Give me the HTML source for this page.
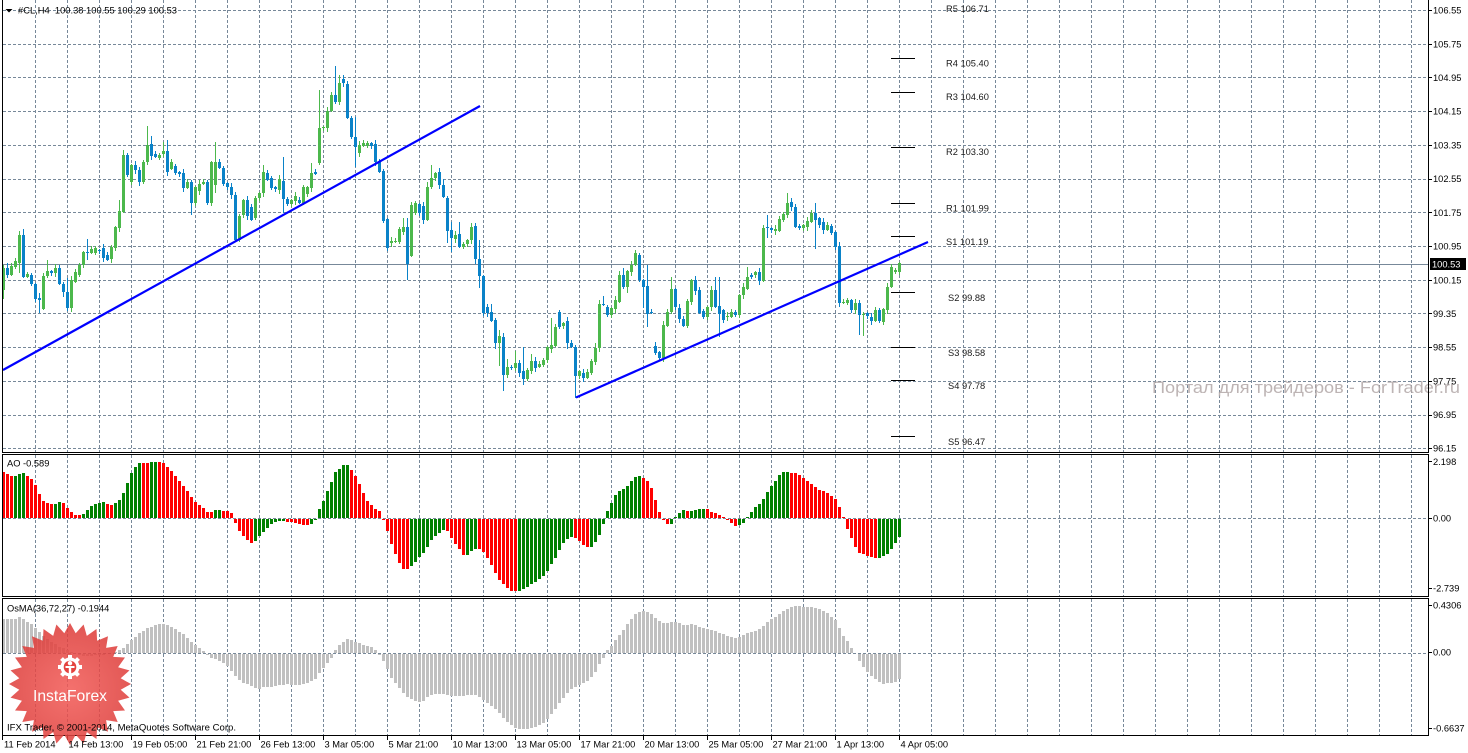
<!DOCTYPE html>
<html><head><meta charset="utf-8">
<style>
html,body{margin:0;padding:0;background:#fff;}
svg{display:block;}
text{font-family:"Liberation Sans",Arial,sans-serif;font-size:9.3px;fill:#000;}
.pv{fill:#1a1a1a;}
</style></head>
<body>
<svg id="s" width="1468" height="753" viewBox="0 0 1468 753" xmlns="http://www.w3.org/2000/svg">
<defs>
<radialGradient id="lg" cx="50%" cy="55%" r="55%">
<stop offset="0" stop-color="#f25a56"/>
<stop offset="1" stop-color="#dc3b38"/>
</radialGradient>
</defs>
<rect x="0" y="0" width="1468" height="753" fill="#fff"/>
<g id="grid" stroke="#778899" stroke-width="1" stroke-dasharray="3 2" shape-rendering="crispEdges"></g>
<line x1="3" y1="264.5" x2="1428" y2="264.5" stroke="#778899" stroke-width="1" shape-rendering="crispEdges"/>
<g id="candles" shape-rendering="crispEdges"></g>
<g id="ao" shape-rendering="crispEdges"></g>
<g id="osma" shape-rendering="crispEdges" fill="#c0c0c0"></g>
<!-- trend lines -->
<line x1="3" y1="370" x2="480" y2="106" stroke="#0000ff" stroke-width="2.2"/>
<line x1="576" y1="397.5" x2="928" y2="242" stroke="#0000ff" stroke-width="2.2"/>
<!-- pivot lines -->
<g stroke="#000" stroke-width="1" shape-rendering="crispEdges">
<line x1="891" y1="58.5" x2="915" y2="58.5"/>
<line x1="891" y1="92.5" x2="915" y2="92.5"/>
<line x1="891" y1="147.5" x2="915" y2="147.5"/>
<line x1="891" y1="203.5" x2="915" y2="203.5"/>
<line x1="891" y1="236.5" x2="915" y2="236.5"/>
<line x1="891" y1="292.5" x2="915" y2="292.5"/>
<line x1="891" y1="347.5" x2="915" y2="347.5"/>
<line x1="891" y1="380.5" x2="915" y2="380.5"/>
<line x1="891" y1="436.5" x2="915" y2="436.5"/>
</g>
<g>
<text class="pv" x="946" y="12">R5 106.71</text>
<text class="pv" x="946" y="66.5">R4 105.40</text>
<text class="pv" x="946" y="100">R3 104.60</text>
<text class="pv" x="946" y="155">R2 103.30</text>
<text class="pv" x="946" y="211.3">R1 101.99</text>
<text class="pv" x="946" y="245">S1 101.19</text>
<text class="pv" x="948" y="301">S2 99.88</text>
<text class="pv" x="948" y="356">S3 98.58</text>
<text class="pv" x="948" y="389">S4 97.78</text>
<text class="pv" x="948" y="445">S5 96.47</text>
</g>
<!-- watermark -->
<text x="1152" y="393" style="font-size:17px;fill:#b2a8a8;opacity:0.85" textLength="308" lengthAdjust="spacingAndGlyphs">Портал для трейдеров - ForTrader.ru</text>
<!-- borders -->
<g stroke="#000" stroke-width="1" shape-rendering="crispEdges" fill="none">
<line x1="2.5" y1="0" x2="2.5" y2="452"/>
<line x1="1428.5" y1="0" x2="1428.5" y2="452"/>
<line x1="2" y1="452.5" x2="1429" y2="452.5"/>
<rect x="2.5" y="454.5" width="1426" height="142"/>
<rect x="2.5" y="598.5" width="1426" height="137"/>
</g>
<g id="ticks" stroke="#000" stroke-width="1" shape-rendering="crispEdges"></g>
<!-- header -->
<polygon points="5.5,9 12.5,9 9,12.5" fill="#000"/>
<text x="18" y="13.5" textLength="159" lengthAdjust="spacingAndGlyphs">#CL,H4&#160;&#160;100.38 100.55 100.29 100.53</text>
<!-- price axis -->
<g>
<text x="1433" y="13.5">106.55</text>
<text x="1433" y="47.3">105.75</text>
<text x="1433" y="81">104.95</text>
<text x="1433" y="114.7">104.15</text>
<text x="1433" y="148.4">103.35</text>
<text x="1433" y="182.1">102.55</text>
<text x="1433" y="215.8">101.75</text>
<text x="1433" y="249.6">100.95</text>
<text x="1433" y="283.3">100.15</text>
<text x="1433" y="317">99.35</text>
<text x="1433" y="350.7">98.55</text>
<text x="1433" y="384.4">97.75</text>
<text x="1433" y="418.1">96.95</text>
<text x="1433" y="451.6">96.15</text>
</g>
<rect x="1430" y="258" width="36" height="12" fill="#000"/>
<text x="1432" y="267.5" style="fill:#fff">100.53</text>
<!-- AO / OsMA labels -->
<text x="7" y="466.5">AO -0.589</text>
<text x="1433" y="465">2.198</text>
<text x="1433" y="521.5">0.00</text>
<text x="1433" y="591.5">-2.739</text>
<text x="7" y="611.5">OsMA(36,72,27) -0.1944</text>
<text x="1433" y="608.5">0.4306</text>
<text x="1433" y="655.5">0.00</text>
<text x="1433" y="731.5">-0.6637</text>
<!-- logo -->
<g id="logo">
<polygon id="star" fill="url(#lg)" opacity="0.86" points=""/>
<g id="gear" fill="#fff"></g>
<circle cx="70" cy="667" r="6.3" fill="#e4433f"/>
<circle cx="70" cy="663.2" r="2.2" fill="#fff"/>
<rect x="65.5" y="666" width="9" height="2" fill="#fff"/>
<rect x="68.8" y="666" width="2.4" height="10" fill="#fff"/>
<text x="70" y="701" text-anchor="middle" style="font-size:16px;fill:#fff" textLength="74" lengthAdjust="spacingAndGlyphs">InstaForex</text>
</g>
<text x="7" y="730.5" textLength="229" lengthAdjust="spacingAndGlyphs">IFX Trader, © 2001-2014, MetaQuotes Software Corp.</text>
<!-- time axis -->
<g>
<text x="4" y="747.5">11 Feb 2014</text>
<text x="68.5" y="747.5">14 Feb 13:00</text>
<text x="132.5" y="747.5">19 Feb 05:00</text>
<text x="196.5" y="747.5">21 Feb 21:00</text>
<text x="260.5" y="747.5">26 Feb 13:00</text>
<text x="324.5" y="747.5">3 Mar 05:00</text>
<text x="388.5" y="747.5">5 Mar 21:00</text>
<text x="452.5" y="747.5">10 Mar 13:00</text>
<text x="516.5" y="747.5">13 Mar 05:00</text>
<text x="580.5" y="747.5">17 Mar 21:00</text>
<text x="644.5" y="747.5">20 Mar 13:00</text>
<text x="708.5" y="747.5">25 Mar 05:00</text>
<text x="772.5" y="747.5">27 Mar 21:00</text>
<text x="836.5" y="747.5">1 Apr 13:00</text>
<text x="900.5" y="747.5">4 Apr 05:00</text>
</g>
</svg>
<script>
(function(){
var NS='http://www.w3.org/2000/svg';
function el(parent,tag,attrs){var e=document.createElementNS(NS,tag);for(var k in attrs)e.setAttribute(k,attrs[k]);parent.appendChild(e);return e;}
/* grid */
var G=document.getElementById('grid');
for(var k=0;k<=43;k++){var x=35.5+32*k;
 el(G,'line',{x1:x,y1:0,x2:x,y2:452});
 el(G,'line',{x1:x,y1:455,x2:x,y2:596});
 el(G,'line',{x1:x,y1:599,x2:x,y2:735});}
for(var k=0;k<14;k++){var y=Math.round(10+33.72*k)+0.5;
 el(G,'line',{x1:3,y1:y,x2:1428,y2:y});}
el(G,'line',{x1:3,y1:518.5,x2:1428,y2:518.5});
el(G,'line',{x1:3,y1:653.5,x2:1428,y2:653.5});
/* ticks */
var T=document.getElementById('ticks');
for(var k=0;k<14;k++){var y=Math.round(10+33.72*k)+0.5;el(T,'line',{x1:1429,y1:y,x2:1432,y2:y});}
[461,518,588,605,652,728].forEach(function(y){el(T,'line',{x1:1429,y1:y+0.5,x2:1432,y2:y+0.5});});
el(T,'line',{x1:2.5,y1:736,x2:2.5,y2:740});
for(var k=0;k<14;k++){var x=67.5+64*k;el(T,'line',{x1:x,y1:736,x2:x,y2:740});}
/* candles */
var C=[
['g',267.7,290,265,299],['b',267.7,275,263,278],['g',265.7,275],['g',260.7,266.7,258],['g',235,262.7,231,273],
['b',235,276.7,229,278],['g',274,276.7,271.7],['b',275,284],['b',284.3,299],['b',298,299.5,293,313],
['g',275.7,309],['g',271,275.7,260],['b',271,272.7],['g',268,272.7],['b',268,284],
['b',284,291.7,0,297],['b',291.7,307.7,278],['g',280,308],['g',271.7,281.7],['g',265,275],
['g',252.3,265],['b',252.3,253.3,239,260],['g',249.3,253.3],['g',248.3,253.3],['b',250,251],
['b',248.3,258.3],['b',255,260],['g',247.3,259.3,0,263],['g',226.7,248.3],['g',210.7,228.3,200],
['g',155,211.7,150],['b',155,175],['g',165,181.7],['b',165,170],['b',170,181.7,0,186],
['g',161.7,181.7],['g',145.3,161.7,126],['b',144,156,136],['b',154,156.7],['g',155,158.3],
['g',150.7,154,141.7],['b',150.7,171.7,140],['g',162.3,169.3],['b',166,173.3],['b',171.7,174],
['b',173.3,187.7],['g',181.7,187.7],['b',181.7,203.3,0,215],['g',186.7,203.3],['g',184.3,190.7],
['g',181.7,184.3],['b',181.7,203.3],['g',161.7,203.3],['g',161.7,185,141.7,192.7],['b',162.3,167.7],
['b',167.7,184.3],['b',182.7,186.7],['b',186.7,195],['b',195,240],['g',216,240],
['g',200,215],['b',200,216],['b',207.3,220],['g',198.3,218.3],['g',192.7,198.3],
['g',172.3,193.3,165],['b',173.3,180],['b',178.3,188.3],['b',187.3,189],['g',179.3,190],
['b',181,199.3,156.7,213.3],['b',199.3,204],['g',200,204],['g',196,200.7],['b',200,203.3],
['g',187.3,203.3],['g',187.3,194],['g',172.7,188.3,163.3],['b',172.3,174.3],['g',128.3,163.3,90],
['g',126.7,128.3],['g',111,128.3],['g',95,111],['b',95,101.7,66],['g',82.7,101.7,75],
['b',79.3,83.3],['b',84,118.3],['b',118.3,136.7],['b',136.7,146.7,116.7,166.7],['g',145,152.7],
['g',143.3,145.7],['g',142.7,145.7],['b',143.3,146],['b',144,162.3],['b',161.7,171.7],
['b',170.7,220.7],['b',219.3,248.3],['g',240.7,243.3],['g',240.7,242.3],['g',229.3,242.3],
['g',227.3,231.7,218.3],['b',227.3,264,218.3,280],['g',205,256],['g',203.3,213.3],['b',204,213.3],
['b',206,220],['g',186.7,220,181.7],['g',178.3,187.3,165],['g',173.3,178.3],['b',171.7,185],
['b',185,197.3,179.3],['b',197.7,230.7,0,242.7],['b',230,238.3,221.7,251.7],['g',235,239.3],['b',234,247.3,221.7],
['g',244,247.3],['g',240,244],['g',227.3,240,223.3],['b',226,259.3,0,264],['b',259.3,276,240,288.3],
['b',276,312.7],['b',306.7,313.3,304],['b',311.7,320.7,304],['b',320,342.7,0,349.3],['g',336,342.7,330,366],
['b',336.7,375,0,390.7],['g',367.3,375,359.3,378.3],['b',367.3,368],['g',363.3,367.7,350.7],['b',362.7,372.7,360],
['b',370.7,379.3,346.7,385],['g',370,379.3],['g',360.7,370.7,354],['b',360.7,368.3],['g',364,367.3],
['g',360,365],['g',347.3,360],['g',345,349,318.3],['g',326.7,346],['b',312.3,326.7],
['g',323.3,326],['b',321,342.7,0,349.3],['b',342.7,347.3],['b',347.3,376,0,398.3],['g',370.7,376],
['b',372.7,378.3],['g',371.7,378.3],['g',360.7,372.7],['g',348.3,361.7,343.3],['g',304,348.3],
['b',304,305,296],['b',306.7,315],['g',308.3,315],['g',300,309.3],['g',275,301.7,270.7],
['b',275,286.7,268.3],['g',270.7,287.3,0,293.3],['g',265,271.7],['g',253.3,265],['b',255,280],
['b',280,287.3,0,308.3],['b',286,314,265,326.7],['b',311.7,313.3],['b',346,353.3,341.7],['b',351.7,358.3],
['g',325,358.3],['g',311.7,325.7],['g',289.3,311.7,276.7],['b',289.3,307.3],['b',308.3,319.3],
['b',319.3,326],['g',300.7,326],['g',280,301.7],['b',280,290.7],['b',290,312.7],
['b',310.7,316.7],['g',307.3,316.7],['g',290,307.3],['b',290,306.7,276.7],['b',306,314,276.7,337.3],
['b',310,320],['g',315.7,317.3],['g',311.7,316.7],['b',311.7,315],['g',295,315],
['g',287.3,295],['g',276.7,289.3,267.3],['b',275,276.7],['g',271.7,275],['b',271.7,280.7],
['g',227.7,280.7],['b',226.7,228.3,215,238.3],['b',227.7,230],['g',229.3,230.7],['g',219,231],
['g',214.3,220],['g',202.7,215,192.7],['b',202.3,206.7],['b',206.7,226.7],['b',226,228.3],
['g',225,228.3],['g',221,226.7],['g',213.3,221.7],['b',212.7,220,203.3,249.3],['b',218.3,225],
['b',221.7,230],['g',225,230],['b',226,232.7],['b',231.7,246.7],['b',246,303.3],
['g',301.7,303.3],['g',300,303.3],['b',300,310],['g',303.3,310],['b',303.3,315,0,335],
['g',314,315.3,0,335.7],['b',313.3,316],['b',316.7,320.7],['g',310,320.7],['b',310,320.7],
['g',309.3,321.7],['g',286.7,310],['g',266.7,287.3],['g',270,272.3],['g',263.3,271.7]
];
var CG=document.getElementById('candles');
for(var i=0;i<C.length;i++){
 var c=C[i],x=4*i+2,t=Math.round(c[1]),b=Math.round(c[2]);
 if(b-t<1)b=t+1;
 var hi=c[3]?Math.round(c[3]):t-1-((i*7)%4);
 var lo=c[4]?Math.round(c[4]):b+1+((i*5+2)%4);
 var col=c[0]=='g'?'#4cb84c':'#0a82c8';
 el(CG,'rect',{x:x+1,y:hi,width:1,height:lo-hi,fill:col});
 el(CG,'rect',{x:x,y:t,width:3,height:b-t,fill:col});
}
/* AO */
var AO=[66,72,78,78,72,70,78,88,105,132,153,160,162,162,157,160,174,186,195,195,192,180,168,162,160,157,162,164,158,150,128,99,68,50,39,39,39,37,37,37,40,50,64,78,93,107,123,141,157,164,174,186,186,180,180,183,183,190,216,240,255,268,275,270,255,242,230,218,212,210,210,212,214,216,220,221,221,218,206,177,152,122,95,66,57,45,45,60,78,103,130,152,165,178,183,206,240,278,310,336,353,353,345,332,318,305,288,266,256,245,237,240,260,278,294,311,311,299,293,293,302,320,341,365,386,398,410,419,419,419,413,407,398,392,383,374,359,338,320,296,275,263,257,260,269,281,287,287,272,251,218,183,158,134,122,116,107,93,80,78,84,93,114,150,186,208,218,218,202,189,180,183,183,180,177,177,177,186,189,195,201,206,216,224,221,215,201,186,171,162,147,126,107,93,75,66,66,69,69,75,84,93,102,111,120,123,129,138,147,171,201,233,261,287,305,308,314,317,320,320,314,308,293,275,257];
var AC="rrrgggrrrr"+"rrrggrrrrr"+"ggggggrrgg"+"gggggrrggr"+"rrrrrrrrrr"+"rrrggrrrrr"+"rrrggggggg"+"grrrrrrggg"+"gggggggrrr"+"rrrrrrrrrr"+"rrgggggggg"+"grrrrrgggr"+"rrrrrrrrrg"+"gggggggggg"+"gggrrrrggg"+"gggggggggg"+"rrrrrrrggg"+"grggggrrrr"+"rrrrgggggg"+"gggggggrrr"+"rrrrrrrrrr"+"rrrrrrrrrg"+"ggggg";
var AG=document.getElementById('ao');
for(var i=0;i<AO.length;i++){
 var top=Math.round(450+AO[i]/3),col=AC.charAt(i)=='g'?'#008000':'#ff0000',x=4*i+2;
 if(top<518)el(AG,'rect',{x:x,y:top,width:3,height:518-top,fill:col});
 else if(top>518)el(AG,'rect',{x:x,y:519,width:3,height:top-518,fill:col});
}
/* OsMA */
var OS=[72,72,72,72,67,72,80,88,100,112,122,132,140,148,155,160,165,170,174,178,180,180,180,178,178,176,175,173,170,166,160,148,135,125,115,108,100,95,90,87,87,90,95,102,110,118,128,140,150,158,167,178,185,190,195,200,210,225,240,252,260,265,270,275,278,273,272,272,270,268,267,265,267,268,267,265,260,255,248,232,217,200,185,165,150,140,132,135,140,145,150,152,155,165,178,195,220,245,262,275,290,302,308,315,318,315,303,298,293,293,295,297,300,300,300,300,298,297,298,302,312,322,330,340,352,365,378,387,395,398,400,398,396,393,388,382,370,355,340,322,305,292,280,272,268,262,255,242,228,205,187,165,152,135,120,104,88,72,58,50,47,50,58,68,78,83,83,82,82,85,90,90,88,90,95,98,103,106,108,113,118,122,126,128,125,120,115,112,108,102,93,80,72,65,57,48,42,35,33,33,35,37,37,40,42,48,55,65,75,98,122,138,158,175,195,212,228,240,250,258,265,262,260,258,248];
var OG=document.getElementById('osma');
for(var i=0;i<OS.length;i++){
 var top=Math.round(595+OS[i]/3),x=4*i+2;
 if(top<653)el(OG,'rect',{x:x,y:top,width:3,height:653-top});
 else if(top>653)el(OG,'rect',{x:x,y:654,width:3,height:top-653});
}
/* logo star */
var pts=[],N=28;
for(var k=0;k<2*N;k++){var a=Math.PI*k/N-Math.PI/2,R=(k%2)?51:61;pts.push((70+R*Math.cos(a)).toFixed(1)+','+(684+R*Math.sin(a)).toFixed(1));}
document.getElementById('star').setAttribute('points',pts.join(' '));
var GR=document.getElementById('gear');
el(GR,'circle',{cx:70,cy:667,r:9.5});
for(var k=0;k<8;k++){var a=k*45;el(GR,'rect',{x:68,y:655,width:4,height:5,transform:'rotate('+a+' 70 667)'});}
})();
</script>
</body></html>
